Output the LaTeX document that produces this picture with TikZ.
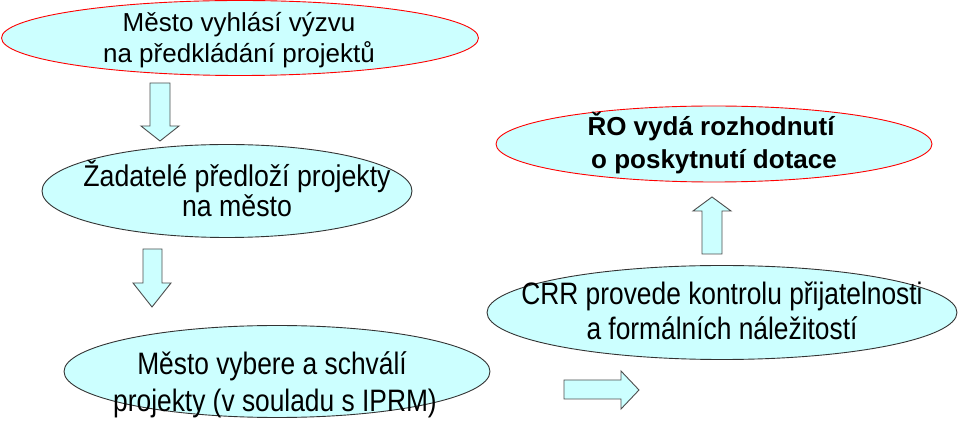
\documentclass[tikz,border=0pt]{standalone}
\usepackage{fontspec}
\setmainfont{Liberation Sans}
\newfontfamily\condA[FakeStretch=0.89]{Liberation Sans}
\newfontfamily\condB[FakeStretch=0.85]{Liberation Sans}
\usetikzlibrary{shapes.geometric}
\definecolor{lcyan}{HTML}{CCFFFF}
\definecolor{arrline}{HTML}{4D4D4D}
\tikzset{
  ellbox/.style={ellipse, fill=lcyan, inner sep=0pt, line width=0.9pt},
  redell/.style={ellbox, draw=red},
  darkell/.style={ellbox, draw=black!80},
  line/.style={anchor=base, inner sep=0pt, font=\fontsize{26}{31}\selectfont},
  lineA/.style={anchor=base, inner sep=0pt, font=\condA\fontsize{30}{36}\selectfont},
  lineB/.style={anchor=base, inner sep=0pt, font=\condB\fontsize{31}{36}\selectfont},
  lineBold/.style={anchor=base, inner sep=0pt, font=\bfseries\fontsize{26}{31}\selectfont},
  blockarrow/.style={fill=lcyan, draw=arrline, line width=0.9pt, line join=miter}
}
\begin{document}
\begin{tikzpicture}[x=1pt, y=-1pt]
\useasboundingbox (0,0) rectangle (962,443);
% ellipses
\node[redell, minimum width=477pt, minimum height=75pt] (e1) at (240,38) {};
\node[darkell, minimum width=370pt, minimum height=93pt] (e2) at (227,191) {};
\node[darkell, minimum width=426pt, minimum height=92pt] (e3) at (277,371.5) {};
\node[darkell, minimum width=470pt, minimum height=94pt] (e4) at (722,312.5) {};
\node[redell, minimum width=436pt, minimum height=76pt] (e5) at (714,144) {};
% texts
\node[line] (t1a) at (239,32) {Město vyhlásí výzvu};
\node[line] (t1b) at (239,63) {na předkládání projektů};
\node[lineA] (t2a) at (237,187) {Žadatelé předloží projekty};
\node[lineA] (t2b) at (237,217) {na město};
\node[lineB] (t3a) at (272,375) {Město vybere a schválí};
\node[lineB] (t3b) at (275,412) {projekty (v souladu s IPRM)};
\node[lineB] (t4a) at (722,305) {CRR provede kontrolu přijatelnosti};
\node[lineB] (t4b) at (722,340) {a formálních náležitostí};
\node[lineBold] (t5a) at (711,136) {ŘO vydá rozhodnutí};
\node[lineBold] (t5b) at (714,169) {o poskytnutí dotace};
% block arrows
\draw[blockarrow] (150,83) -- (170,83) -- (170,126) -- (179,126) -- (160,141) -- (141,126) -- (150,126) -- cycle;
\draw[blockarrow] (143,249) -- (162,249) -- (162,283) -- (171,283) -- (152,307) -- (133,283) -- (143,283) -- cycle;
\draw[blockarrow] (564,380) -- (621,380) -- (621,371) -- (639,390) -- (621,409) -- (621,399) -- (564,399) -- cycle;
\draw[blockarrow] (702,254) -- (702,211) -- (693,211) -- (712,197) -- (731,211) -- (722,211) -- (722,254) -- cycle;
\end{tikzpicture}
\end{document}
